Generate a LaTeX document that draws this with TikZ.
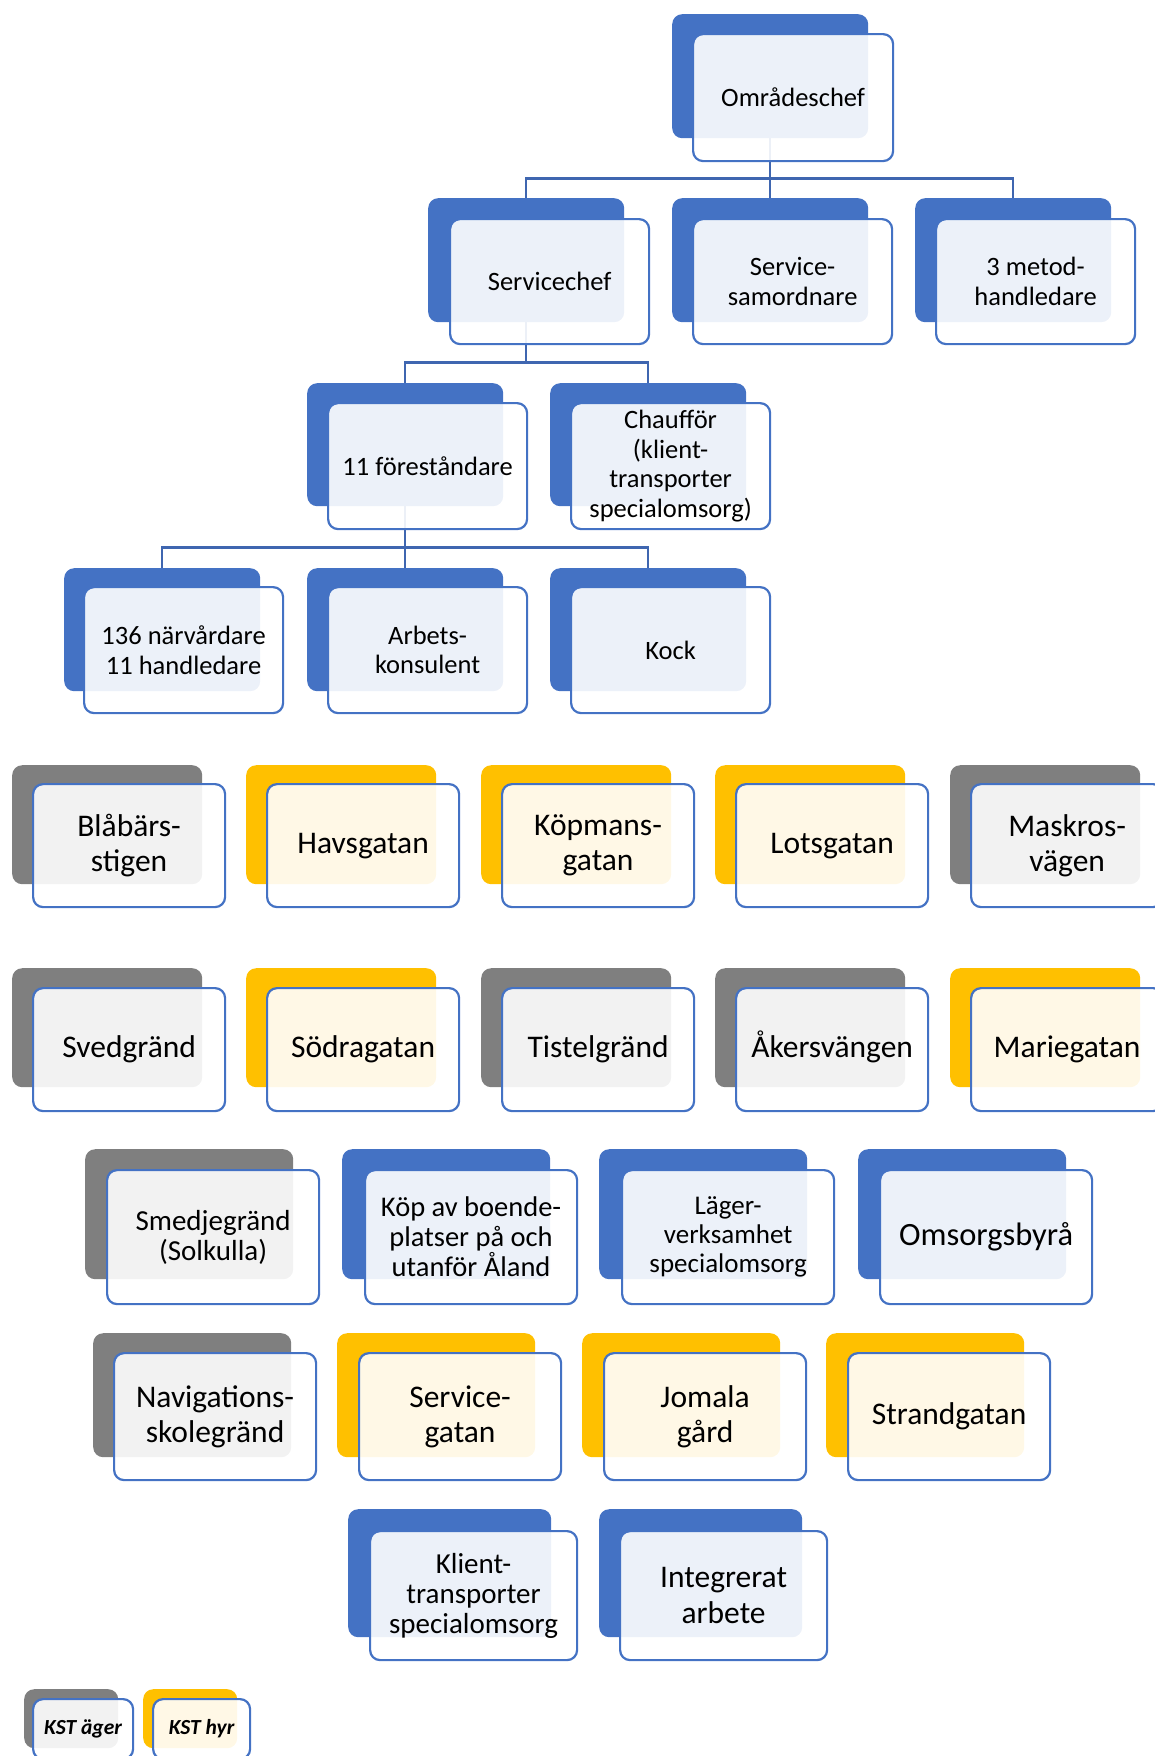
\documentclass[tikz,border=0pt]{standalone}
\usepackage{fontspec}
\setmainfont{Carlito}
\usepackage{tikz}
\usepackage{xcolor}
\usetikzlibrary{positioning, backgrounds}

\definecolor{kblue}{HTML}{4472C4}
\definecolor{kgray}{HTML}{7F7F7F}
\definecolor{kyellow}{HTML}{FFC000}
\definecolor{kline}{HTML}{3F66B0}

\tikzset{
  bgbox/.style={fill=#1, rounded corners=10pt, inner sep=0pt, anchor=north west},
  fgbox/.style={draw=kblue, line width=2.2pt, fill=white, fill opacity=0.9, text opacity=1,
    rounded corners=10pt, inner sep=0pt, anchor=north west, align=center},
  wh/.style 2 args={minimum width=#1pt, minimum height=#2pt},
  txtS/.style={font=\fontsize{26.5}{29.5}\selectfont},
  txtM/.style={font=\fontsize{28.5}{30}\selectfont},
  txtL/.style={font=\fontsize{31.5}{35}\selectfont},
  conn/.style={draw=kline, line width=2.5pt},
}

\begin{document}
\begin{tikzpicture}[x=1pt, y=-1pt]
  \useasboundingbox (0,0) rectangle (1154,1756);

  % ledning
  \node[bgbox=kblue, wh={196}{124}] (omr-bg) at (672,14) {};
  \node[fgbox, wh={200}{127}, txtS] (omr) at (692,33) {Områdeschef};

  \node[bgbox=kblue, wh={196}{124}] (sch-bg) at (428,198) {};
  \node[fgbox, wh={199}{125}, txtS] (sch) at (449,218) {Servicechef};
  \node[bgbox=kblue, wh={196}{124}] (sam-bg) at (672,198) {};
  \node[fgbox, wh={199}{125}, txtS] (sam) at (692,218) {Service-\\samordnare};
  \node[bgbox=kblue, wh={196}{124}] (met-bg) at (915,198) {};
  \node[fgbox, wh={199}{125}, txtS] (met) at (935,218) {3 metod-\\handledare};

  \node[bgbox=kblue, wh={196}{123}] (for-bg) at (307,383) {};
  \node[fgbox, wh={199}{126}, txtS] (for) at (327,402) {11 föreståndare};
  \node[bgbox=kblue, wh={196}{123}] (chf-bg) at (550,383) {};
  \node[fgbox, wh={199}{126}, txtS] (chf) at (570,402) {Chaufför\\(klient-\\transporter\\specialomsorg)};

  \node[bgbox=kblue, wh={196}{123}] (nar-bg) at (64,568) {};
  \node[fgbox, wh={199}{126}, txtS] (nar) at (83,586) {136 närvårdare\\ 11 handledare};
  \node[bgbox=kblue, wh={196}{123}] (ark-bg) at (307,568) {};
  \node[fgbox, wh={199}{126}, txtS] (ark) at (327,586) {Arbets-\\konsulent};
  \node[bgbox=kblue, wh={196}{123}] (kock-bg) at (550,568) {};
  \node[fgbox, wh={199}{126}, txtS] (kock) at (570,586) {Kock};

  % boenden, rad 1
  \node[bgbox=kgray, wh={190}{119}] (bla-bg) at (12,765) {};
  \node[fgbox, wh={192}{123}, txtL] (bla) at (32,783) {Blåbärs-\\stigen};
  \node[bgbox=kyellow, wh={190}{119}] (hav-bg) at (246,765) {};
  \node[fgbox, wh={192}{123}, txtL] (hav) at (266,783) {Havsgatan};
  \node[bgbox=kyellow, wh={190}{119}] (kop-bg) at (481,765) {};
  \node[fgbox, wh={192}{123}, txtL] (kop) at (501,783) {Köpmans-\\gatan};
  \node[bgbox=kyellow, wh={190}{119}] (lot-bg) at (715,765) {};
  \node[fgbox, wh={192}{123}, txtL] (lot) at (735,783) {Lotsgatan};
  \node[bgbox=kgray, wh={190}{119}] (mas-bg) at (950,765) {};
  \node[fgbox, wh={192}{123}, txtL] (mas) at (970,783) {Maskros-\\vägen};

  % boenden, rad 2
  \node[bgbox=kgray, wh={190}{119}] (sve-bg) at (12,968) {};
  \node[fgbox, wh={192}{123}, txtL] (sve) at (32,987) {Svedgränd};
  \node[bgbox=kyellow, wh={190}{119}] (sod-bg) at (246,968) {};
  \node[fgbox, wh={192}{123}, txtL] (sod) at (266,987) {Södragatan};
  \node[bgbox=kgray, wh={190}{119}] (tis-bg) at (481,968) {};
  \node[fgbox, wh={192}{123}, txtL] (tis) at (501,987) {Tistelgränd};
  \node[bgbox=kgray, wh={190}{119}] (ake-bg) at (715,968) {};
  \node[fgbox, wh={192}{123}, txtL, text height=23.5pt, text depth=7pt] (ake) at (735,987) {Åkersvängen};
  \node[bgbox=kyellow, wh={190}{119}] (mar-bg) at (950,968) {};
  \node[fgbox, wh={192}{123}, txtL] (mar) at (970,987) {Mariegatan};

  % rad 3
  \node[bgbox=kgray, wh={208}{130}] (sme-bg) at (85,1149) {};
  \node[fgbox, wh={212}{134}, font=\fontsize{29}{30}\selectfont] (sme) at (106,1169) {Smedjegränd\\(Solkulla)};
  \node[bgbox=kblue, wh={208}{130}] (kpb-bg) at (342,1149) {};
  \node[fgbox, wh={212}{134}, txtM] (kpb) at (364,1169) {Köp av boende-\\platser på och\\utanför Åland};
  \node[bgbox=kblue, wh={208}{130}] (lag-bg) at (599,1149) {};
  \node[fgbox, wh={212}{134}, font=\fontsize{27}{29}\selectfont] (lag) at (621,1169) {Läger-\\verksamhet\\specialomsorg};
  \node[bgbox=kblue, wh={208}{130}] (oms-bg) at (858,1149) {};
  \node[fgbox, wh={212}{134}, font=\fontsize{32.5}{35}\selectfont] (oms) at (879,1169) {Omsorgsbyrå};

  % rad 4
  \node[bgbox=kgray, wh={198}{124}] (nav-bg) at (93,1333) {};
  \node[fgbox, wh={202}{127}, txtL] (nav) at (113,1352) {Navigations-\\skolegränd};
  \node[bgbox=kyellow, wh={198}{124}] (svg-bg) at (337,1333) {};
  \node[fgbox, wh={202}{127}, txtL] (svg) at (358,1352) {Service-\\gatan};
  \node[bgbox=kyellow, wh={198}{124}] (jom-bg) at (582,1333) {};
  \node[fgbox, wh={202}{127}, txtL] (jom) at (603,1352) {Jomala\\gård};
  \node[bgbox=kyellow, wh={198}{124}] (str-bg) at (826,1333) {};
  \node[fgbox, wh={202}{127}, txtL] (str) at (847,1352) {Strandgatan};

  % rad 5
  \node[bgbox=kblue, wh={203}{128}] (kli-bg) at (348,1509) {};
  \node[fgbox, wh={207}{129}, font=\fontsize{29}{30}\selectfont] (kli) at (369,1530) {Klient-\\transporter\\specialomsorg};
  \node[bgbox=kblue, wh={203}{128}] (int-bg) at (599,1509) {};
  \node[fgbox, wh={207}{129}, font=\fontsize{31.5}{35.5}\selectfont] (int) at (619,1530) {Integrerat\\arbete};

  % förklaring
  \node[bgbox=kgray, wh={94}{59}] (aeg-bg) at (24,1689) {};
  \node[fgbox, wh={100}{60}, font=\fontsize{21.5}{24}\selectfont\bfseries\itshape] (aeg) at (32,1698) {KST äger};
  \node[bgbox=kyellow, wh={94}{59}] (hyr-bg) at (143,1689) {};
  \node[fgbox, wh={97}{60}, font=\fontsize{21.5}{24}\selectfont\bfseries\itshape] (hyr) at (152,1698) {KST hyr};

  % linjer
  \begin{scope}[on background layer]
    \draw[conn] (omr-bg.south) -- ++(0,40) coordinate (b0);
    \draw[conn] (sch-bg.north) |- (b0) -| (met-bg.north);
    \draw[conn] (b0) -- (sam-bg.north);
    \draw[conn] (sch-bg.south) -- ++(0,40) coordinate (b1);
    \draw[conn] (for-bg.north) |- (b1) -| (chf-bg.north);
    \draw[conn] (for-bg.south) -- ++(0,41) coordinate (b2);
    \draw[conn] (nar-bg.north) |- (b2) -| (kock-bg.north);
    \draw[conn] (b2) -- (ark-bg.north);
  \end{scope}
\end{tikzpicture}
\end{document}
